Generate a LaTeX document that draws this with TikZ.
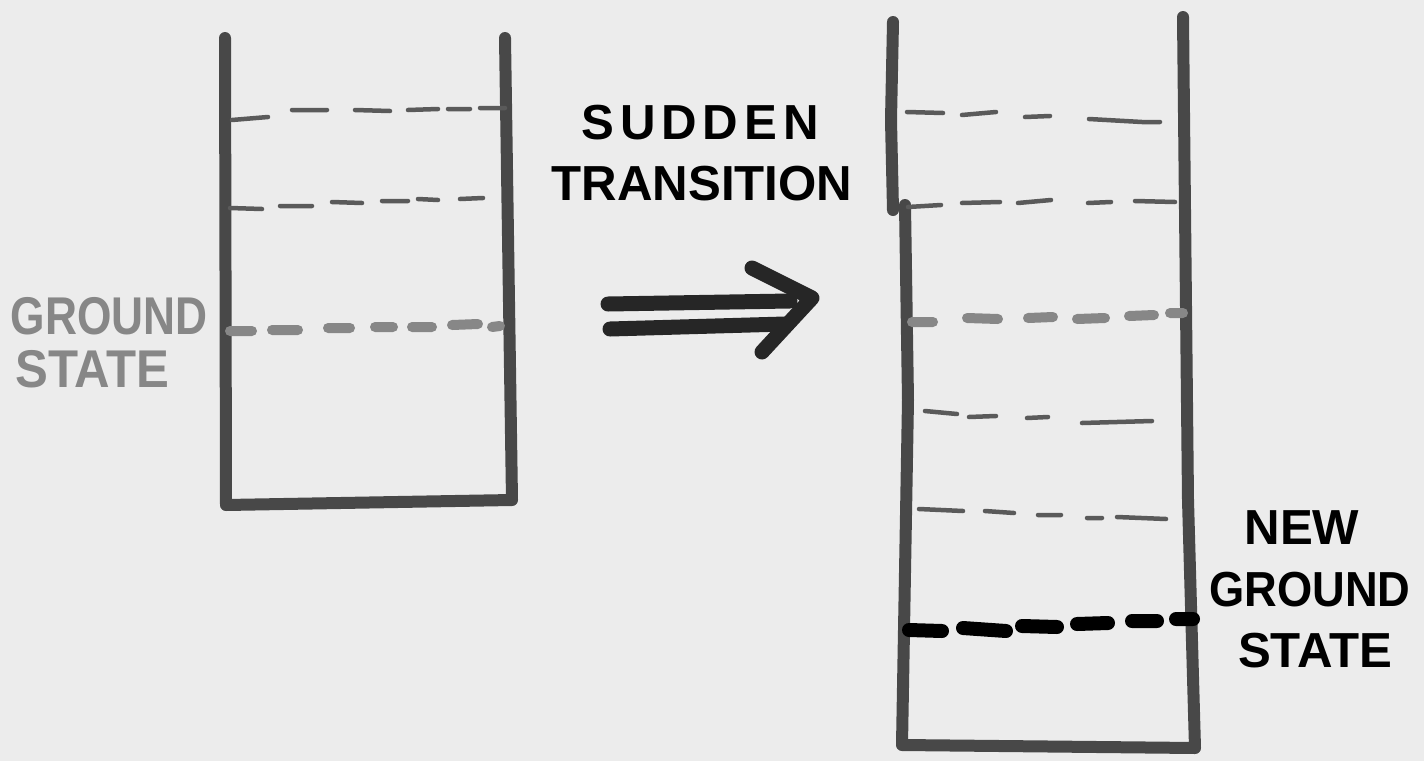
\documentclass[tikz,border=0pt]{standalone}
\usepackage{fontspec}
\setmainfont{Liberation Sans}
\usepackage{xcolor}
\definecolor{paper}{RGB}{236,236,236}
\definecolor{pen}{RGB}{72,72,72}
\definecolor{pale}{RGB}{135,135,135}
\tikzset{
  wall/.style={line width=1.2mm, pen, line cap=round, line join=round},
  level/.style={line width=0.45mm, pen!90!white, line cap=round},
  gslevel/.style={line width=1.0mm, pale, line cap=round},
  newgs/.style={line width=1.4mm, black, line cap=round},
  arrowbar/.style={line width=1.5mm, black!85, line cap=round, line join=round},
  label/.style={font=\fontsize{14}{16}\selectfont\bfseries, inner sep=0pt}
}

\begin{document}
\begin{tikzpicture}[x=0.1mm,y=-0.1mm]

    % Kertas
    \fill[paper] (0,0) rectangle (1424,761);
    \useasboundingbox (0,0) rectangle (1424,761);

    % Sumur kiri
    \draw[wall] (225,38) -- (226,505) -- (512,500) -- (505,38);

    % Tingkat energi kiri
    \draw[level] (232,120) -- (268,117) (292,110) -- (327,110) (355,110) -- (390,111)
                 (408,110) -- (438,109) (448,109) -- (470,109) (480,108) -- (505,108);
    \draw[level] (230,208) -- (262,209) (280,206) -- (312,206) (332,202) -- (362,203)
                 (382,201) -- (408,201) (418,199) -- (438,200) (460,199) -- (483,198);
    \draw[gslevel] (230,331) -- (252,331) (272,330) -- (298,330) (328,328) -- (350,328)
                   (375,327) -- (393,327) (412,327) -- (432,327) (452,325) -- (478,324)
                   (492,327) -- (500,326);

    % Label keadaan dasar
    \node[label, pale, anchor=west] (ground) at (10,316) {\scalebox{0.9}[1.08]{GROUND}};
    \node[label, pale, anchor=west] (state) at (15,369) {\scalebox{1}[1.08]{STATE}};

    % Panah
    \draw[arrowbar] (608,304) -- (790,301);
    \draw[arrowbar] (610,329) -- (785,324);
    \draw[arrowbar] (752,268) -- (812,298) -- (762,352);

    % Teks transisi
    \node[label] (sudden) at (700,123) {\addfontfeature{LetterSpace=12}SUDDEN};
    \node[label] (transition) at (702,184) {TRANSITION};

    % Sumur kanan
    \draw[wall] (893,22) -- (891,120) -- (893,210);
    \draw[wall] (905,205) -- (908,400) -- (902,745) -- (1195,748) -- (1188,500) -- (1183,17);

    % Tingkat energi kanan
    \draw[level] (907,112) -- (943,113) (962,115) -- (996,112) (1025,117) -- (1050,116)
                 (1089,119) -- (1142,122) -- (1160,122);
    \draw[level] (908,207) -- (941,205) (962,203) -- (1000,202) (1018,203) -- (1051,200)
                 (1088,203) -- (1111,202) (1135,201) -- (1175,202);
    \draw[gslevel] (912,322) -- (933,322) (967,318) -- (998,319) (1028,318) -- (1053,317)
                   (1077,319) -- (1105,318) (1129,316) -- (1154,315) (1170,313) -- (1183,313);
    \draw[level] (925,411) -- (957,414) (969,417) -- (996,416) (1027,418) -- (1048,417)
                 (1082,423) -- (1152,421);
    \draw[level] (919,509) -- (963,511) (985,511) -- (1014,513) (1038,515) -- (1061,515)
                 (1087,518) -- (1102,518) (1117,517) -- (1166,519);
    \draw[newgs] (909,630) -- (942,631) (963,628) -- (1006,631) (1022,626) -- (1057,627)
                 (1077,624) -- (1108,623) (1132,621) -- (1157,621) (1176,619) -- (1193,619);

    % Label keadaan dasar baru
    \node[label] (new) at (1302,528) {NEW};
    \node[label] (newground) at (1310,590) {\scalebox{0.92}[1]{GROUND}};
    \node[label] (newstate) at (1315,651) {STATE};

\end{tikzpicture}
\end{document}
